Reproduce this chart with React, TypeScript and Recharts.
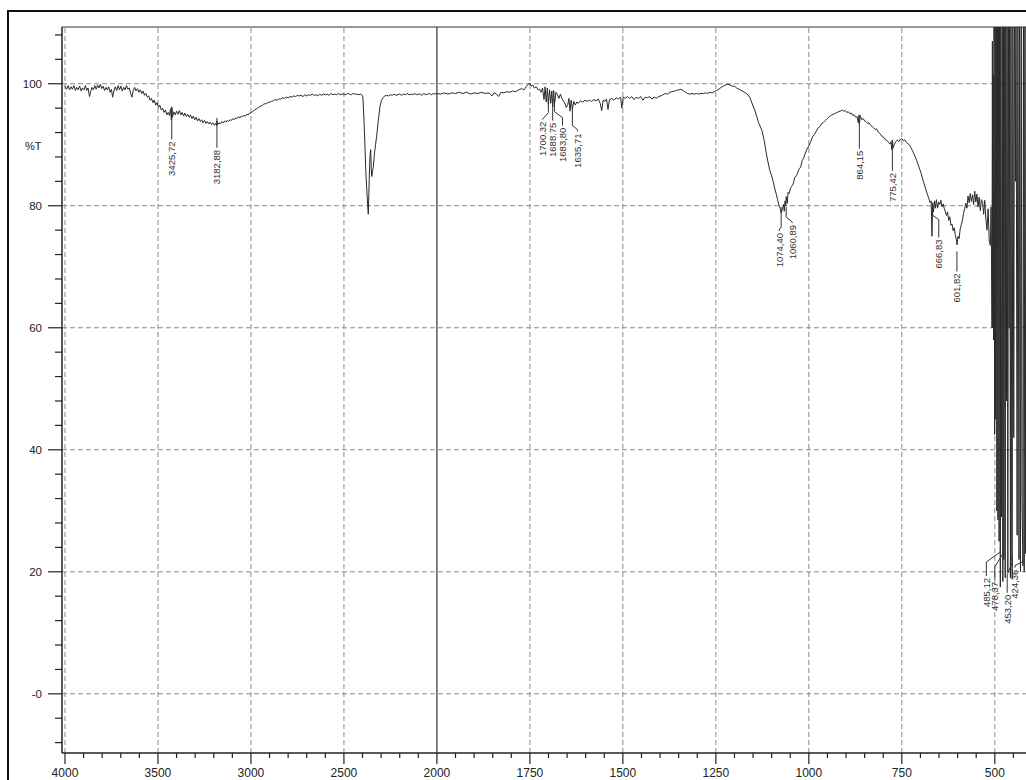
import React from 'react';
import { ComposedChart, Line, Scatter, XAxis, YAxis, ReferenceLine } from 'recharts';

// [wavenumber cm-1, %T], high to low wavenumber
const bandOH: [number, number][] = [
  [4000, 99.6], [3991, 99.1], [3983, 99.7], [3975, 99.0], [3967, 99.5], [3960, 99.1], [3952, 99.7], [3944, 98.9],
  [3937, 99.4], [3929, 99.0], [3921, 99.6], [3913, 98.8], [3906, 99.3], [3898, 99.0], [3890, 99.7], [3883, 98.9],
  [3876, 99.3], [3868, 97.9], [3862, 98.7], [3855, 99.4], [3847, 99.0], [3840, 99.7], [3832, 99.1], [3825, 99.8],
  [3817, 99.3], [3810, 99.9], [3802, 99.2], [3795, 99.6], [3787, 98.9], [3780, 99.4], [3772, 99.0], [3765, 99.5],
  [3757, 98.6], [3750, 99.1], [3744, 97.8], [3737, 98.8], [3730, 99.5], [3722, 98.9], [3714, 99.7], [3707, 99.0],
  [3699, 99.6], [3692, 98.8], [3684, 99.4], [3677, 99.0], [3669, 99.7], [3662, 99.1], [3654, 99.3], [3647, 98.4],
  [3640, 97.8], [3633, 98.9], [3625, 99.4], [3618, 98.8], [3610, 99.2], [3602, 98.6], [3595, 99.0], [3587, 98.4],
  [3580, 98.8], [3572, 98.1], [3565, 98.4], [3557, 97.8], [3550, 98.0], [3542, 97.3], [3535, 97.6], [3527, 96.9],
  [3520, 97.3], [3512, 96.5], [3505, 96.9], [3497, 96.1], [3490, 96.5], [3482, 95.7], [3475, 96.0], [3467, 95.3],
  [3460, 95.7], [3452, 94.9], [3445, 95.3], [3438, 94.8], [3432, 95.9], [3428, 94.1], [3425.72, 96.2], [3422, 94.5],
  [3415, 95.4], [3407, 94.9], [3400, 95.5], [3392, 95.0], [3385, 95.6], [3377, 94.9], [3370, 95.3], [3362, 94.7],
  [3355, 95.2], [3347, 94.6], [3340, 95.0], [3332, 94.5], [3325, 94.9], [3317, 94.3], [3310, 94.7], [3302, 94.1],
  [3295, 94.5], [3287, 93.9], [3280, 94.3], [3272, 93.8], [3265, 94.1], [3257, 93.6], [3250, 94.0], [3242, 93.5],
  [3235, 93.8], [3227, 93.4], [3220, 93.7], [3212, 93.3], [3205, 93.6], [3197, 93.2], [3190, 93.5], [3185, 93.1],
  [3182.88, 93.9], [3179, 93.3], [3172, 93.6], [3164, 93.4], [3157, 93.8], [3149, 93.6], [3142, 93.9], [3134, 93.7],
  [3127, 94.0], [3119, 93.8], [3112, 94.1], [3104, 94.0], [3097, 94.3], [3089, 94.1], [3082, 94.4], [3074, 94.3],
  [3067, 94.6], [3059, 94.4], [3052, 94.7], [3044, 94.6], [3037, 94.8], [3029, 94.7], [3022, 95.0], [3014, 94.9],
  [3007, 95.2], [3000, 95.2],
];

const bandCO2: [number, number][] = [
  [2990, 95.5], [2980, 95.7], [2970, 95.9], [2960, 96.1], [2950, 96.3], [2940, 96.4], [2930, 96.7], [2920, 96.7],
  [2910, 96.9], [2900, 97.0], [2890, 97.1], [2880, 97.2], [2870, 97.4], [2860, 97.3], [2850, 97.5], [2840, 97.5],
  [2830, 97.7], [2820, 97.6], [2810, 97.8], [2800, 97.7], [2790, 97.9], [2780, 97.8], [2770, 98.0], [2760, 97.9],
  [2750, 98.1], [2740, 98.0], [2730, 98.1], [2720, 97.9], [2710, 98.2], [2700, 98.0], [2690, 98.2], [2680, 98.1],
  [2670, 98.3], [2660, 98.1], [2650, 98.2], [2640, 98.0], [2630, 98.3], [2620, 98.1], [2610, 98.3], [2600, 98.2],
  [2590, 98.3], [2580, 98.1], [2570, 98.4], [2560, 98.2], [2550, 98.3], [2540, 98.2], [2530, 98.4], [2520, 98.2],
  [2510, 98.3], [2500, 98.3], [2490, 98.2], [2480, 98.4], [2470, 98.3], [2460, 98.2], [2450, 98.4], [2440, 98.3],
  [2430, 98.3], [2420, 98.2], [2410, 98.3], [2405, 98.2], [2398, 97.8], [2392, 94.0], [2387, 89.8], [2382, 85.5],
  [2378, 83.2], [2372, 80.0], [2369, 78.6], [2366, 82.0], [2364, 84.3], [2360, 88.0], [2356, 89.2], [2353, 86.0],
  [2350, 84.8], [2346, 85.8], [2342, 86.3], [2336, 88.5], [2330, 90.0], [2324, 91.4], [2315, 94.0], [2306, 96.3],
  [2298, 97.3], [2290, 97.7], [2280, 98.0], [2270, 98.1], [2260, 98.0], [2250, 98.2], [2240, 98.1], [2230, 98.3],
  [2220, 98.1], [2210, 98.2], [2200, 98.3], [2190, 98.1], [2180, 98.3], [2170, 98.2], [2160, 98.4], [2150, 98.2],
  [2140, 98.3], [2130, 98.2], [2120, 98.4], [2110, 98.2], [2100, 98.3], [2090, 98.3], [2080, 98.1], [2070, 98.4],
  [2060, 98.2], [2050, 98.3], [2040, 98.4], [2030, 98.2], [2020, 98.4], [2010, 98.3], [2000, 98.4],
];

const bandCarbonyl: [number, number][] = [
  [1990, 98.3], [1980, 98.5], [1970, 98.3], [1960, 98.5], [1950, 98.4], [1940, 98.6], [1930, 98.4], [1920, 98.6],
  [1910, 98.3], [1900, 98.5], [1890, 98.4], [1880, 98.6], [1870, 98.4], [1860, 98.5], [1852, 98.0], [1846, 98.5],
  [1840, 98.3], [1834, 97.9], [1828, 98.6], [1820, 98.5], [1812, 98.7], [1804, 98.6], [1796, 98.8], [1788, 98.7],
  [1780, 99.0], [1772, 99.2], [1766, 99.0], [1760, 99.5], [1755, 99.9], [1750, 100.1], [1746, 99.6], [1742, 99.8],
  [1738, 99.3], [1733, 99.5], [1728, 99.0], [1724, 99.1], [1720, 98.6], [1716, 99.3], [1712, 97.4], [1709, 99.5],
  [1706, 97.0], [1703, 99.3], [1700.32, 96.6], [1697, 99.0], [1694, 96.8], [1691, 98.8], [1688.75, 96.2], [1686, 98.9],
  [1683.8, 96.6], [1680, 98.6], [1676, 98.2], [1672, 97.6], [1668, 98.3], [1664, 97.6], [1660, 97.2], [1656, 96.8],
  [1652, 96.1], [1648, 96.6], [1645, 97.6], [1642, 95.5], [1639, 97.3], [1635.71, 95.8], [1632, 97.1], [1628, 96.5],
  [1624, 97.0], [1620, 96.8], [1614, 97.2], [1608, 97.0], [1602, 97.3], [1596, 97.1], [1590, 97.3], [1584, 97.1],
  [1578, 97.4], [1572, 97.2], [1566, 97.5], [1561, 96.8], [1557, 95.6], [1553, 97.3], [1548, 97.1], [1544, 97.5],
  [1540, 95.8], [1536, 97.4], [1530, 97.6], [1524, 97.3], [1518, 97.7], [1512, 97.5], [1506, 97.8], [1503, 96.0],
  [1499, 97.8], [1494, 97.6], [1488, 97.9], [1482, 97.6], [1476, 97.9], [1470, 97.4], [1464, 97.8], [1458, 97.6],
  [1452, 97.9], [1446, 97.3], [1440, 97.8], [1434, 97.7], [1428, 97.9], [1422, 97.5], [1416, 97.8], [1410, 97.6],
  [1404, 97.9], [1398, 98.0], [1392, 98.2], [1386, 98.4], [1380, 98.3], [1374, 98.6], [1368, 98.7], [1362, 98.8],
  [1356, 98.9], [1350, 99.0], [1344, 99.1], [1338, 98.9], [1332, 98.6], [1326, 98.4], [1320, 98.3], [1314, 98.4],
  [1308, 98.3], [1302, 98.4], [1296, 98.3], [1290, 98.4], [1284, 98.4], [1278, 98.5], [1272, 98.4], [1266, 98.6],
  [1260, 98.5],
];

const bandFingerprint: [number, number][] = [
  [1254, 98.7], [1248, 98.9], [1242, 99.1], [1236, 99.4], [1230, 99.6], [1224, 99.8], [1218, 99.9], [1212, 99.8],
  [1206, 99.6], [1200, 99.6], [1194, 99.3], [1188, 99.1], [1182, 98.9], [1176, 98.7], [1170, 98.5], [1164, 98.2],
  [1159, 97.8], [1154, 97.0], [1149, 96.2], [1145, 95.6], [1140, 94.6], [1135, 93.6], [1130, 92.9], [1126, 92.3],
  [1120, 90.7], [1115, 88.8], [1110, 87.2], [1105, 85.8], [1100, 84.9], [1096, 84.0], [1092, 82.9], [1088, 82.0],
  [1084, 81.0], [1080, 80.0], [1077, 79.6], [1074.4, 78.8], [1071, 79.4], [1068, 80.2], [1066, 79.1], [1064, 80.8],
  [1062, 80.0], [1060.89, 81.5], [1058, 80.4], [1056, 82.2], [1053, 82.0], [1050, 82.8], [1046, 83.2], [1042, 83.6],
  [1038, 84.6], [1034, 84.9], [1030, 85.4], [1026, 86.1], [1022, 86.3], [1018, 87.4], [1014, 87.8], [1010, 88.5],
  [1005, 89.3], [1000, 89.8], [995, 90.5], [990, 91.3], [985, 91.7], [980, 92.2], [975, 92.8], [970, 93.0],
  [965, 93.5], [960, 93.7], [955, 94.0], [950, 94.3], [945, 94.6], [940, 94.8], [935, 95.0], [930, 95.1],
  [925, 95.3], [920, 95.4], [915, 95.5], [910, 95.7], [906, 95.5], [902, 95.6], [898, 95.3], [894, 95.4],
  [890, 95.1], [886, 95.2], [882, 94.8], [878, 94.9], [874, 94.5], [870, 94.6], [867, 93.6], [865, 94.9],
  [864.15, 93.3], [862, 94.8], [858, 94.1], [854, 94.3], [850, 93.9], [846, 93.8], [842, 93.5], [838, 93.6],
  [834, 93.2], [830, 93.0], [826, 92.8], [822, 92.5], [818, 92.6], [814, 92.1], [810, 91.9], [806, 91.6],
  [802, 91.3], [798, 91.2], [794, 90.8], [790, 90.7], [786, 90.4], [782, 90.1], [779, 90.5], [777, 89.2],
  [775.42, 90.8], [773, 89.5], [770, 90.1], [766, 90.5], [762, 90.8], [758, 90.5], [754, 90.9], [750, 91.0],
  [746, 90.7], [742, 90.8], [738, 90.4], [734, 90.2], [730, 90.0], [726, 89.6], [722, 89.1], [718, 88.6],
  [714, 88.0], [710, 87.4], [706, 86.7], [702, 86.0], [698, 85.3], [694, 84.4], [690, 83.6], [686, 82.8],
  [682, 82.0], [678, 81.3], [674, 80.5], [671, 80.8], [669, 75.0], [667, 80.5], [665, 79.0], [662, 80.8],
  [660, 79.6], [657, 81.0], [654, 79.6], [651, 80.6], [648, 80.2], [645, 80.9], [642, 79.8], [639, 80.3],
  [636, 79.6], [633, 79.0], [630, 78.4], [627, 79.0], [624, 77.6], [621, 78.2], [618, 76.8], [615, 77.0],
  [612, 75.9], [609, 76.4], [606, 75.1], [603, 74.4], [601.82, 73.6], [599, 75.0], [596, 74.6], [593, 76.2],
  [590, 76.9], [587, 77.6], [584, 78.8], [581, 79.5], [578, 80.4], [575, 79.6], [572, 81.6], [569, 80.5],
  [566, 82.0], [563, 80.7], [560, 81.8], [557, 80.2], [554, 82.4], [551, 80.6], [548, 81.9], [545, 79.8],
  [542, 81.4], [539, 79.2], [536, 81.0], [533, 80.6], [530, 78.6], [527, 80.9], [524, 77.8], [521, 76.0],
  [518, 79.5], [515, 74.2], [512, 73.5], [510, 79.8],
];

const bandLowEdge: [number, number][] = [
  [509, 72.3], [507.5, 60.0], [506.5, 107], [505.5, 60.0], [504.5, 101.5], [503.5, 58.0], [502, 118], [500.5, 42.5],
  [499, 118], [497.5, 45], [496, 118], [494.5, 30], [493, 118], [491.5, 28.5], [490, 118], [488.5, 25],
  [487, 118], [485.12, 17.5], [484, 118], [482, 29], [480, 118], [478.37, 18.4], [477, 118], [475.5, 22],
  [474, 118], [472, 19], [470.5, 118], [468.5, 48], [467, 118], [465, 20], [463, 118], [461.5, 60],
  [460, 118], [458, 19], [456.5, 118], [454.5, 24], [453.2, 18.8], [451.5, 118], [449, 42], [447, 118],
  [444.5, 84], [443, 118], [440, 26], [438, 118], [435, 22], [433.5, 118], [431, 20], [429, 118],
  [427, 32], [424.36, 21], [423, 118], [421, 20], [419, 118], [417, 23], [415, 118], [413, 30],
  [411, 118], [408, 25], [405, 118], [402, 40], [400, 118],
];

const peakWavenumbers = [3425.72, 3182.88, 1700.32, 1688.75, 1683.8, 1635.71, 1074.4, 1060.89, 864.15, 775.42, 666.83, 601.82, 485.12, 478.37, 453.2, 424.36];
const peakLabels = ['3425,72', '3182,88', '1700.32', '1688.75', '1683,80', '1635,71', '1074,40', '1060,89', '864,15', '775,42', '666,83', '601,82', '485,12', '478,37', '453,20', '424,36'];
const peakLevels = [96.1, 94.4, 97.4, 97.4, 97.4, 96.1, 79.8, 79.8, 93.3, 90.3, 78.9, 72.5, 23.9, 23.6, 22.8, 22.0];

const xMajorTicks = [4000, 3500, 3000, 2500, 2000, 1750, 1500, 1250, 1000, 750, 500];
const yMajorTicks = [100, 80, 60, 40, 20, 0];

// leader line shape per peak: [stem, shift, slant drop, tail] in px
const leaderLayout = [
  [32, 0, 0, 0], [30, 0, 0, 0], [13, -6, 7, 0], [21, 0, 0, 0], [12, 8, 6, 8], [18, 5, 4, 2],
  [20, -2, 3, 1], [10, 6, 5, 1], [24, 0, 0, 0], [28, 0, 0, 0], [3, 6, 4, 18], [20, 0, 0, 0],
  [4, -14, 10, 14], [4, -8, 13, 13], [8, -5, 12, 18], [2, -8, 4, 2],
];

// the spectrometer doubles the scale below 2000 cm-1
const toU = (wn: number) => (wn >= 2000 ? 4000 - wn : 2000 + 2 * (2000 - wn));
const fromU = (u: number) => (u <= 2000 ? 4000 - u : 2000 - (u - 2000) / 2);

const spectrum = [...bandOH, ...bandCO2, ...bandCarbonyl, ...bandFingerprint, ...bandLowEdge].map(([wn, t]) => ({ u: toU(wn), t }));
const peaks = peakWavenumbers.map((wn, i) => ({ u: toU(wn), t: peakLevels[i], label: peakLabels[i], i }));

const U_MIN = -16;
const U_MAX = 5200;
const Y_MIN = -9.7;
const Y_MAX = 109.3;
const PLOT_LEFT = 54;
const PLOT_BOTTOM = 745;
const FONT = '"Liberation Sans", Arial, sans-serif';

const xTicks: number[] = [];
for (let u = 0; u <= 5200; u += 100) xTicks.push(u);
const yTicks: number[] = [];
for (let v = -8; v <= 108; v += 4) yTicks.push(v);

const XTick = ({ x, payload }: any) => {
  const wn = Math.round(fromU(payload.value));
  const major = xMajorTicks.includes(wn);
  return (
    <g>
      <line x1={x} x2={x} y1={PLOT_BOTTOM} y2={PLOT_BOTTOM + (major ? 11 : 5)} stroke="#222" strokeWidth={1.2} />
      {major && (
        <text x={x} y={PLOT_BOTTOM + 24} textAnchor="middle" fontSize={12} fontFamily={FONT} fill="#222">
          {wn}
        </text>
      )}
    </g>
  );
};

const YTick = ({ y, payload }: any) => {
  const v = payload.value;
  const major = yMajorTicks.includes(v);
  return (
    <g>
      <line x1={PLOT_LEFT - (major ? 14 : 7)} x2={PLOT_LEFT} y1={y} y2={y} stroke="#222" strokeWidth={1.2} />
      {major && (
        <text x={PLOT_LEFT - 20} y={y + 4} textAnchor="end" fontSize={11.5} fontFamily={FONT} fill="#222">
          {v === 0 ? '-0' : v}
        </text>
      )}
    </g>
  );
};

const PeakMark = (props: any) => {
  const { cx, cy, payload } = props;
  const [stem, shift, drop, tail] = leaderLayout[payload.i];
  const y1 = cy + stem;
  const x2 = cx + shift;
  const y2 = y1 + drop;
  const y3 = y2 + tail;
  const ty = y3 + 2;
  return (
    <g>
      <polyline points={`${cx},${cy} ${cx},${y1} ${x2},${y2} ${x2},${y3}`} fill="none" stroke="#333" strokeWidth={1} />
      <text
        x={x2}
        y={ty}
        transform={`rotate(-90 ${x2} ${ty})`}
        textAnchor="end"
        dominantBaseline="central"
        fontSize={9.5}
        fontFamily={FONT}
        fill="#333"
      >
        {payload.label}
      </text>
    </g>
  );
};

export default function App() {
  return (
    <div style={{ position: 'absolute', left: 0, top: 0, width: 1026, height: 780, overflow: 'hidden', background: '#fff' }}>
      <div style={{ position: 'absolute', left: 7, top: 10, width: 1200, height: 900, border: '2px solid #111' }} />
      <div style={{ position: 'absolute', left: 25, top: 140, fontSize: 11, fontFamily: FONT, color: '#222' }}>%T</div>
      <div style={{ position: 'absolute', left: 8, top: 8 }}>
        <ComposedChart width={1040} height={790} margin={{ top: 19, right: 16, bottom: 0, left: 0 }}>
          <XAxis
            dataKey="u"
            type="number"
            domain={[U_MIN, U_MAX]}
            allowDataOverflow
            ticks={xTicks}
            interval={0}
            tick={<XTick />}
            tickLine={false}
            axisLine={{ stroke: '#222', strokeWidth: 1.5 }}
            height={45}
          />
          <YAxis
            type="number"
            domain={[Y_MIN, Y_MAX]}
            allowDataOverflow
            ticks={yTicks}
            interval={0}
            tick={<YTick />}
            tickLine={false}
            axisLine={{ stroke: '#222', strokeWidth: 1.5 }}
            width={54}
          />
          {yMajorTicks.map((v) => (
            <ReferenceLine key={`h${v}`} y={v} stroke="#8a8a8a" strokeDasharray="5 3" />
          ))}
          {xMajorTicks.filter((wn) => wn !== 2000).map((wn) => (
            <ReferenceLine key={`v${wn}`} x={toU(wn)} stroke="#8a8a8a" strokeDasharray="5 3" />
          ))}
          <ReferenceLine x={toU(2000)} stroke="#333" strokeWidth={1.2} />
          <ReferenceLine y={Y_MAX} stroke="#333" strokeWidth={1.2} />
          <Line
            data={spectrum}
            dataKey="t"
            type="linear"
            dot={false}
            stroke="#2a2a2a"
            strokeWidth={1}
            isAnimationActive={false}
          />
          <Scatter data={peaks} dataKey="t" shape={PeakMark} isAnimationActive={false} />
        </ComposedChart>
      </div>
    </div>
  );
}
